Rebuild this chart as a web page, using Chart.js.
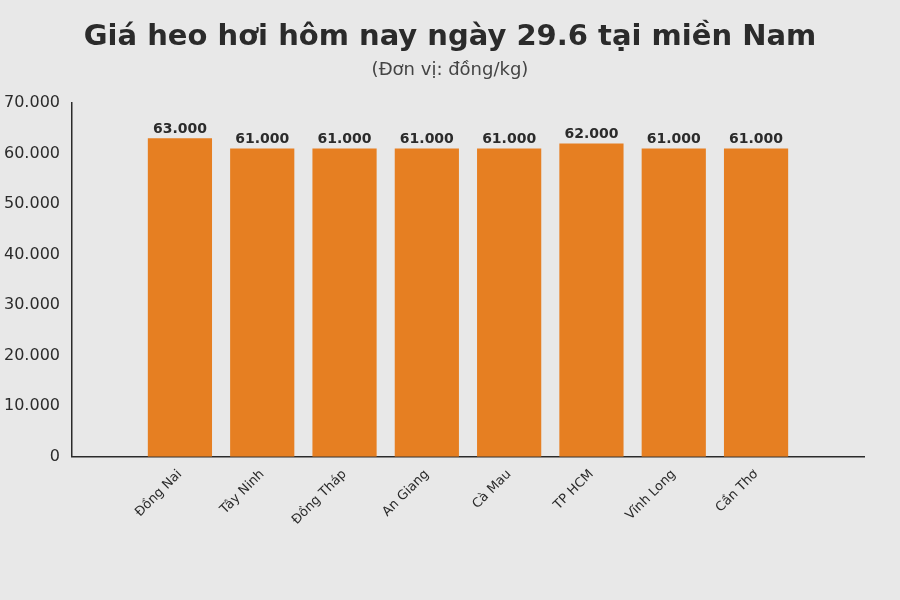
<!DOCTYPE html>
<html><head><meta charset="utf-8">
<script src="https://cdn.jsdelivr.net/npm/chart.js@4"></script>
<style>html,body{margin:0;background:#e8e8e8}</style>
</head><body>
<canvas id="c" width="900" height="600"></canvas>
<script>
// du lieu gia heo hoi
const provinces=['Đồng Nai','Tây Ninh','Đồng Tháp','An Giang','Cà Mau','TP HCM','Vĩnh Long','Cần Thơ'];
const prices=[63000,61000,61000,61000,61000,62000,61000,61000];
const yTicks=[0,10000,20000,30000,40000,50000,60000,70000];

const fmt=v=>String(v).replace(/\B(?=(\d{3})+(?!\d))/g,'.');
const TEXT='#2b2b2b';

// ve nhan gia tri tren dau cot
const barLabels={
  id:'barLabels',
  afterDatasetsDraw(chart){
    const ctx=chart.ctx;
    ctx.save();
    ctx.font='bold 14px "DejaVu Sans"';ctx.fillStyle=TEXT;ctx.textAlign='center';ctx.textBaseline='bottom';
    chart.getDatasetMeta(0).data.forEach((b,i)=>ctx.fillText(fmt(prices[i]),b.x,b.y-2));
    ctx.restore();
  }
};
// nen + tieu de can giua canvas
const bg={id:'bg',beforeDraw(c){const x=c.ctx;x.save();x.fillStyle='#e8e8e8';x.fillRect(0,0,c.width,c.height);
  x.textAlign='center';x.textBaseline='middle';
  x.fillStyle=TEXT;x.font='bold 29px "DejaVu Sans"';x.fillText('Giá heo hơi hôm nay ngày 29.6 tại miền Nam',450,37);
  x.fillStyle='#444';x.font='18px "DejaVu Sans"';x.fillText('(Đơn vị: đồng/kg)',450,70);
  x.restore();}};

new Chart(document.getElementById('c'),{
  type:'bar',
  data:{datasets:[{data:prices.map((p,i)=>({x:i,y:p})),backgroundColor:'#e67f22',barPercentage:0.78,categoryPercentage:1}]},
  options:{
    responsive:false,animation:false,
    layout:{padding:{left:0,right:36,top:103,bottom:62}},
    plugins:{legend:{display:false},tooltip:{enabled:false}},
    scales:{
      x:{type:'linear',min:-0.71,max:7.71,
         afterBuildTicks:a=>{a.ticks=provinces.map((_,i)=>({value:i}));},
         grid:{display:false,drawTicks:false},border:{color:TEXT,width:1.5},
         ticks:{color:TEXT,font:{family:'DejaVu Sans',size:13},minRotation:45,maxRotation:45,padding:10,
                callback:v=>provinces[v]??''}},
      y:{min:0,max:70000,afterBuildTicks:a=>{a.ticks=yTicks.map(v=>({value:v}));},
         grid:{display:false},border:{color:TEXT,width:1.5},
         ticks:{color:TEXT,font:{family:'DejaVu Sans',size:16},callback:v=>fmt(v),padding:4}}
    }
  },
  plugins:[bg,barLabels]
});
</script>
</body></html>
